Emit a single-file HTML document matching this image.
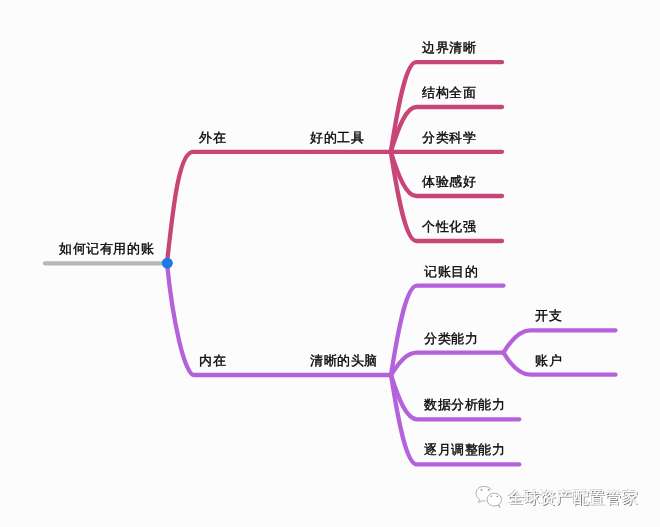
<!DOCTYPE html>
<html><head><meta charset="utf-8">
<style>
html,body{margin:0;padding:0;width:660px;height:527px;overflow:hidden;background:#fdfcfd;}
svg{position:absolute;left:0;top:0;}
.t{position:absolute;font-family:"Liberation Sans",sans-serif;font-size:13px;letter-spacing:0.6px;color:#080808;white-space:nowrap;line-height:1;-webkit-text-stroke:0.38px #080808;will-change:transform;}
</style></head><body>
<svg width="660" height="527" viewBox="0 0 660 527">
<g fill="none" stroke-linecap="round" stroke-width="4.3">
<path d="M45 263.3 H166" stroke="#b7b7b7"/>
<path d="M167 263 C173.6 201.8 179.5 151.8 193.0 151.8 H390.8" stroke="#c84577"/>
<path d="M390.8 151.8 C398.5 102.5 406.1 62.2 416.3 62.2 H502" stroke="#c84577"/>
<path d="M390.8 151.8 C398.5 127.2 406.1 107.0 416.3 107 H502" stroke="#c84577"/>
<path d="M390.8 151.8 C398.5 176.1 406.1 196.0 416.3 196 H502" stroke="#c84577"/>
<path d="M390.8 151.8 C398.5 200.9 406.1 241.0 416.3 241 H502" stroke="#c84577"/>
<path d="M390.8 151.8 H502" stroke="#c84577"/>
<path d="M167 263 C172.5 320.1 184.6 375.0 194.0 375 H391" stroke="#b362db"/>
<path d="M391 375 C398.7 325.8 406.6 285.6 417.0 285.6 H503.5" stroke="#b362db"/>
<path d="M391 375 C398.7 362.7 406.6 352.6 417.0 352.6 H503.5" stroke="#b362db"/>
<path d="M391 375 C398.7 399.4 406.6 419.3 417.0 419.3 H519.3" stroke="#b362db"/>
<path d="M391 375 C398.7 424.2 406.6 464.4 417.0 464.4 H519.3" stroke="#b362db"/>
<path d="M503.5 352.6 C511.5 339.2 519.7 330.3 530.5 330.3 H615.5" stroke="#b362db"/>
<path d="M503.5 352.6 C511.5 365.9 519.7 374.7 530.5 374.7 H615.5" stroke="#b362db"/>
</g>
<circle cx="167.3" cy="263.2" r="5.5" fill="#1b7ae8"/>
</svg>
<div class="t" style="left:58.5px;top:242.3px">如何记有用的账</div>
<div class="t" style="left:198.5px;top:130.8px">外在</div>
<div class="t" style="left:310.3px;top:130.8px">好的工具</div>
<div class="t" style="left:198.5px;top:354.0px">内在</div>
<div class="t" style="left:310.3px;top:354.0px">清晰的头脑</div>
<div class="t" style="left:421.7px;top:41.2px">边界清晰</div>
<div class="t" style="left:421.7px;top:86.0px">结构全面</div>
<div class="t" style="left:421.7px;top:130.8px">分类科学</div>
<div class="t" style="left:421.7px;top:175.0px">体验感好</div>
<div class="t" style="left:421.7px;top:220.0px">个性化强</div>
<div class="t" style="left:423.7px;top:264.6px">记账目的</div>
<div class="t" style="left:423.7px;top:331.6px">分类能力</div>
<div class="t" style="left:423.7px;top:398.3px">数据分析能力</div>
<div class="t" style="left:423.7px;top:443.4px">逐月调整能力</div>
<div class="t" style="left:535.3px;top:309.3px">开支</div>
<div class="t" style="left:535.3px;top:353.7px">账户</div>
<svg width="660" height="527" style="position:absolute;left:0;top:0" viewBox="0 0 660 527">
<g fill="#ffffff" stroke="#9c9c9c" stroke-width="1" opacity="0.8">
<path d="M491.5 490 C490 487.8 487.5 486.5 484 486.5 C478.5 486.5 476 490 476 493.5 C476 496 477.3 497.8 479.5 499.2 L478.5 502.5 L482.5 500.6 C483.5 500.8 484.5 501 485.5 501"/>
<ellipse cx="494.3" cy="499.6" rx="7.3" ry="6.4"/>
<path d="M498 505 L500 507.5 L499 504.6"/>
</g>
<g fill="#8a8a8a">
<circle cx="481.6" cy="489.8" r="0.9"/><circle cx="488.6" cy="489.8" r="0.9"/>
<circle cx="491.2" cy="496.3" r="0.8"/><circle cx="497.2" cy="496.5" r="0.8"/>
</g>
</svg>
<div style="position:absolute;left:507.5px;top:489.5px;font-family:'Liberation Sans',sans-serif;font-size:16px;line-height:1;color:#fff;white-space:nowrap;letter-spacing:0.3px;-webkit-text-stroke:0.2px #fff;text-shadow:1px 1px 0.3px rgba(0,0,0,0.5), -0.6px -0.6px 0.3px rgba(0,0,0,0.22)">全球资产配置管家</div>
</body></html>
